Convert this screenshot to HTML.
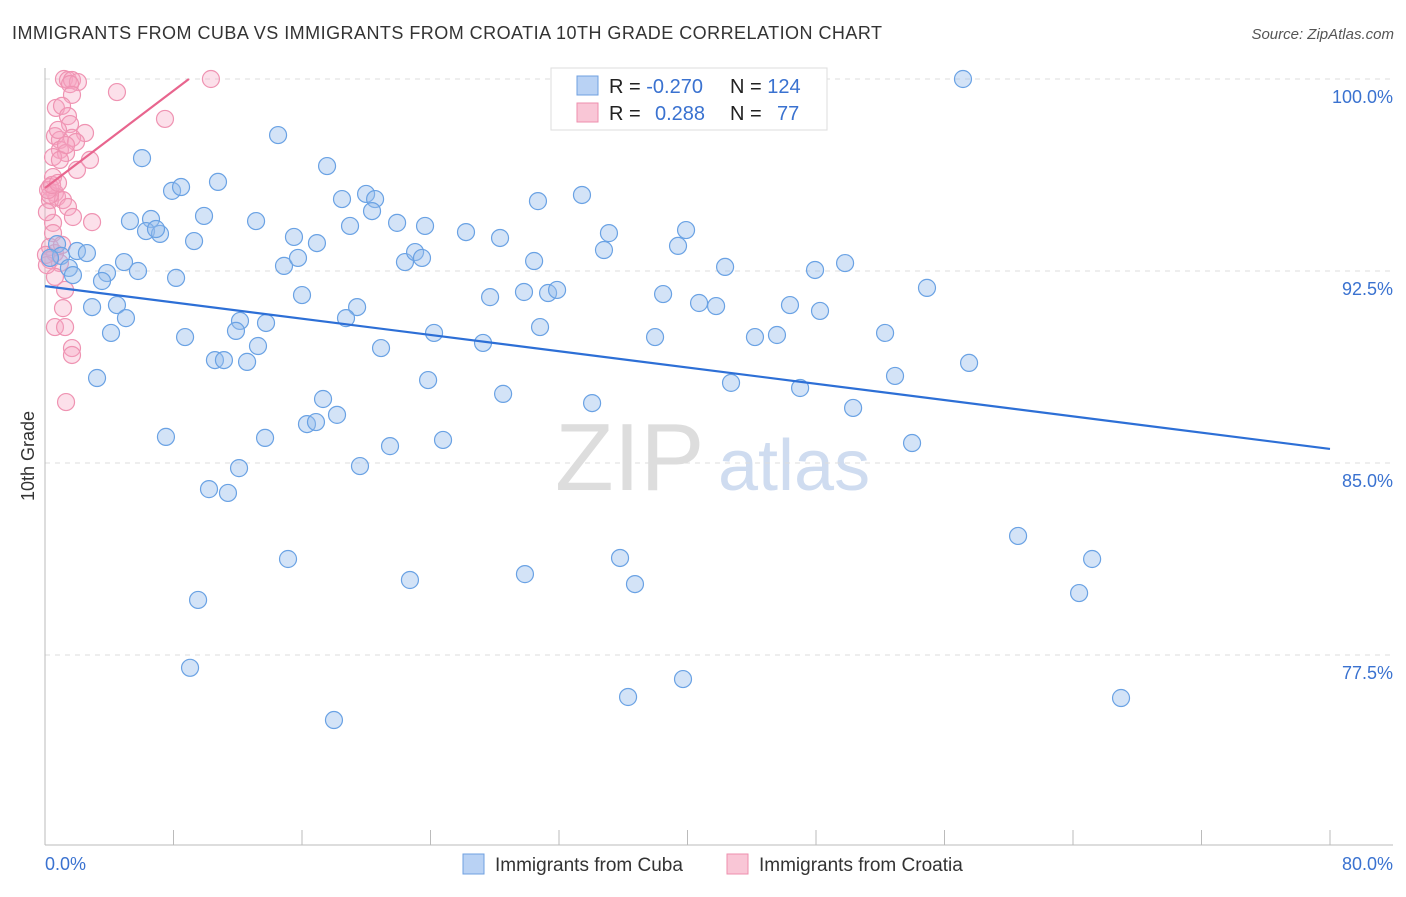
<!DOCTYPE html>
<html><head><meta charset="utf-8"><style>
body{margin:0;background:#fff;font-family:"Liberation Sans",sans-serif;}
svg text{font-family:"Liberation Sans",sans-serif;}
</style></head><body>
<svg id="chart" width="1406" height="892" viewBox="0 0 1406 892" xmlns="http://www.w3.org/2000/svg">
<text x="12" y="39" font-size="18" fill="#333" textLength="870">IMMIGRANTS FROM CUBA VS IMMIGRANTS FROM CROATIA 10TH GRADE CORRELATION CHART</text>
<text x="1394" y="39" font-size="15" fill="#555" text-anchor="end" font-style="italic">Source: ZipAtlas.com</text>
<g>
<text x="555" y="490" font-size="96" fill="#ddd" font-family="Liberation Serif, serif">ZIP</text>
<text x="718" y="490" font-size="72" fill="#cfdcf0">atlas</text>
</g>
<g id="grid"></g>
<g id="axes"></g>
<g id="pts"></g>
<g id="trend"></g>
<text transform="translate(34,456) rotate(-90)" font-size="18" fill="#333" text-anchor="middle">10th Grade</text>
<g>
<rect x="551" y="68" width="276" height="62" fill="#fff" stroke="#ddd"/>
<rect x="577" y="76" width="21" height="19" fill="#b9d2f4" stroke="#6fa0e0"/>
<rect x="577" y="103" width="21" height="19" fill="#f9c6d6" stroke="#ee8fae"/>
<text x="609" y="93" font-size="20" fill="#222">R = <tspan fill="#3a72d0">-0.270</tspan></text>
<text x="730" y="93" font-size="20" fill="#222">N = <tspan fill="#3a72d0">124</tspan></text>
<text x="609" y="120" font-size="20" fill="#222">R = </text>
<text x="655" y="120" font-size="20" fill="#3a72d0">0.288</text>
<text x="730" y="120" font-size="20" fill="#222">N = </text>
<text x="777" y="120" font-size="20" fill="#3a72d0">77</text>
</g>
<g>
<rect x="463" y="854" width="21" height="20" fill="#b9d2f4" stroke="#6fa0e0"/>
<text x="495" y="871" font-size="19" fill="#333">Immigrants from Cuba</text>
<rect x="727" y="854" width="21" height="20" fill="#f9c6d6" stroke="#ee8fae"/>
<text x="759" y="871" font-size="19" fill="#333">Immigrants from Croatia</text>
</g>
</svg>
<script>
const yTicks=[100,92.5,85,77.5];
const yTickLabels=["100.0%","92.5%","85.0%","77.5%"];
const xTicks=[0,8,16,24,32,40,48,56,64,72,80];
const xEndLabels=["0.0%","80.0%"];
const cubaX=[14.51,6.04,17.56,7.91,8.47,10.77,19.99,18.49,20.55,20.36,9.90,5.29,6.60,13.14,6.29,7.16,6.91,21.92,23.66,18.99,26.21,30.69,33.43,35.11,39.91,39.41,28.33,15.50,16.93,9.28,0.75,1.99,2.61,1.00,0.31,1.49,1.74,3.86,4.92,5.79,8.16,3.55,14.88,15.75,22.41,23.04,23.47,30.45,34.80,42.34,47.94,49.81,16.00,19.43,18.74,27.71,29.82,31.32,31.88,38.48,40.72,41.78,46.38,48.25,54.91,2.93,4.48,5.04,4.11,12.14,13.76,11.89,8.72,13.26,24.22,30.82,27.27,20.92,37.98,44.20,45.57,52.30,10.58,11.14,12.58,57.53,3.24,23.85,42.71,47.01,52.92,28.52,34.06,50.31,17.31,18.18,16.31,16.87,7.53,13.70,21.48,24.78,53.98,12.08,19.61,10.21,11.39,60.58,15.13,35.80,65.19,22.72,29.88,36.73,64.38,9.53,9.03,17.99,36.30,39.72,66.99,57.15];
const cubaY=[97.81,96.91,96.60,95.63,95.78,95.98,95.51,95.31,95.31,94.84,94.65,94.45,94.53,94.45,94.06,93.95,94.14,94.38,94.26,94.26,94.02,95.23,95.47,93.98,94.10,93.48,93.79,93.83,93.59,93.67,93.55,93.28,93.20,93.09,93.01,92.62,92.34,92.42,92.85,92.50,92.23,92.11,92.70,93.01,92.85,93.24,93.01,92.89,93.32,92.66,92.54,92.81,91.56,91.09,90.66,91.48,91.68,91.64,91.76,91.60,91.25,91.13,91.17,90.94,91.84,91.09,91.17,90.66,90.08,90.55,90.47,90.16,89.92,89.57,90.08,90.31,89.69,89.49,89.92,89.92,90.00,90.08,89.02,89.02,88.95,88.91,88.32,88.24,88.13,87.93,88.40,87.70,87.34,87.15,87.50,86.88,86.52,86.60,86.02,85.98,85.66,85.90,85.78,84.80,84.88,83.98,83.83,82.15,81.25,81.29,81.25,80.43,80.66,80.27,79.92,79.65,77.00,74.96,75.86,76.56,75.82,100.0];
const croX=[1.18,1.43,1.68,2.05,1.56,4.48,10.33,1.68,0.68,1.06,1.43,1.56,2.49,0.62,0.93,1.68,1.93,0.93,1.31,0.50,0.93,2.80,1.99,0.50,0.31,0.62,0.75,0.31,1.12,1.43,1.74,2.93,0.50,0.50,0.31,0.62,0.31,0.93,0.62,1.25,1.12,0.62,1.25,1.68,1.68,1.31,7.47,0.31,0.19,0.44,0.81,0.12,0.12,0.06,1.06,1.31,0.81];
const croY=[100.0,99.96,99.96,99.88,99.80,99.49,100.0,99.38,98.87,98.95,98.55,98.24,97.89,97.77,97.62,97.70,97.54,97.23,97.11,96.95,96.84,96.84,96.45,96.17,95.78,95.55,95.39,95.27,95.27,95.00,94.61,94.41,94.38,93.98,93.44,93.20,92.93,92.81,92.27,91.76,91.05,90.31,90.31,89.49,89.22,87.38,98.44,95.47,95.66,95.86,95.94,94.80,92.73,93.13,93.52,97.42,98.01];
const cubaTrend=[[0,91.91],[80,85.55]];
const croTrend=[[0,95.74],[8.96,100.0]];

const NS="http://www.w3.org/2000/svg";
const X0=45,X1=1330,Y100=79,PXPER=25.6;
const sx=v=>X0+(v/80)*(X1-X0);
const sy=v=>Y100+(100-v)*PXPER;
function mk(tag,attrs,parent){const e=document.createElementNS(NS,tag);for(const k in attrs)e.setAttribute(k,attrs[k]);parent.appendChild(e);return e;}
const grid=document.getElementById('grid'),axes=document.getElementById('axes'),pts=document.getElementById('pts'),trend=document.getElementById('trend');
yTicks.forEach((t,i)=>{
 const l=mk('line',{x1:45,x2:1393,y1:sy(t),y2:sy(t),stroke:'#ddd','stroke-dasharray':'5,5'},grid);
 
 
 const tx=mk('text',{x:1393,y:sy(t)+24,'font-size':18,fill:'#3a72d0','text-anchor':'end'},axes);
 tx.textContent=yTickLabels[i];
 
 
});
const la=mk('line',{x1:45,x2:45,y1:68,y2:845,stroke:'#bbb'},axes);


const lb=mk('line',{x1:45,x2:1393,y1:845,y2:845,stroke:'#bbb'},axes);


xTicks.forEach(t=>{
 const l=mk('line',{x1:sx(t),x2:sx(t),y1:830,y2:845,stroke:'#bbb'},axes);
 
 
});
const xl0=mk('text',{x:45,y:870,'font-size':18,fill:'#3a72d0'},axes);xl0.textContent=xEndLabels[0];


const xl1=mk('text',{x:1393,y:870,'font-size':18,fill:'#3a72d0','text-anchor':'end'},axes);xl1.textContent=xEndLabels[1];


croX.forEach((x,i)=>{
 const c=mk('circle',{cx:sx(x),cy:sy(croY[i]),r:8.5,fill:'rgba(246,166,194,0.35)',stroke:'#ef93b2','stroke-width':1.2},pts);
 
 
});
cubaX.forEach((x,i)=>{
 const c=mk('circle',{cx:sx(x),cy:sy(cubaY[i]),r:8.5,fill:'rgba(150,189,236,0.42)',stroke:'#6aa2e4','stroke-width':1.2},pts);
 
 
});
const t1=mk('line',{x1:sx(cubaTrend[0][0]),y1:sy(cubaTrend[0][1]),x2:sx(cubaTrend[1][0]),y2:sy(cubaTrend[1][1]),stroke:'#2d6fd6','stroke-width':2.2},trend);


const t2=mk('line',{x1:sx(croTrend[0][0]),y1:sy(croTrend[0][1]),x2:sx(croTrend[1][0]),y2:sy(croTrend[1][1]),stroke:'#e8658e','stroke-width':2.2},trend);


</script>
</body></html>
